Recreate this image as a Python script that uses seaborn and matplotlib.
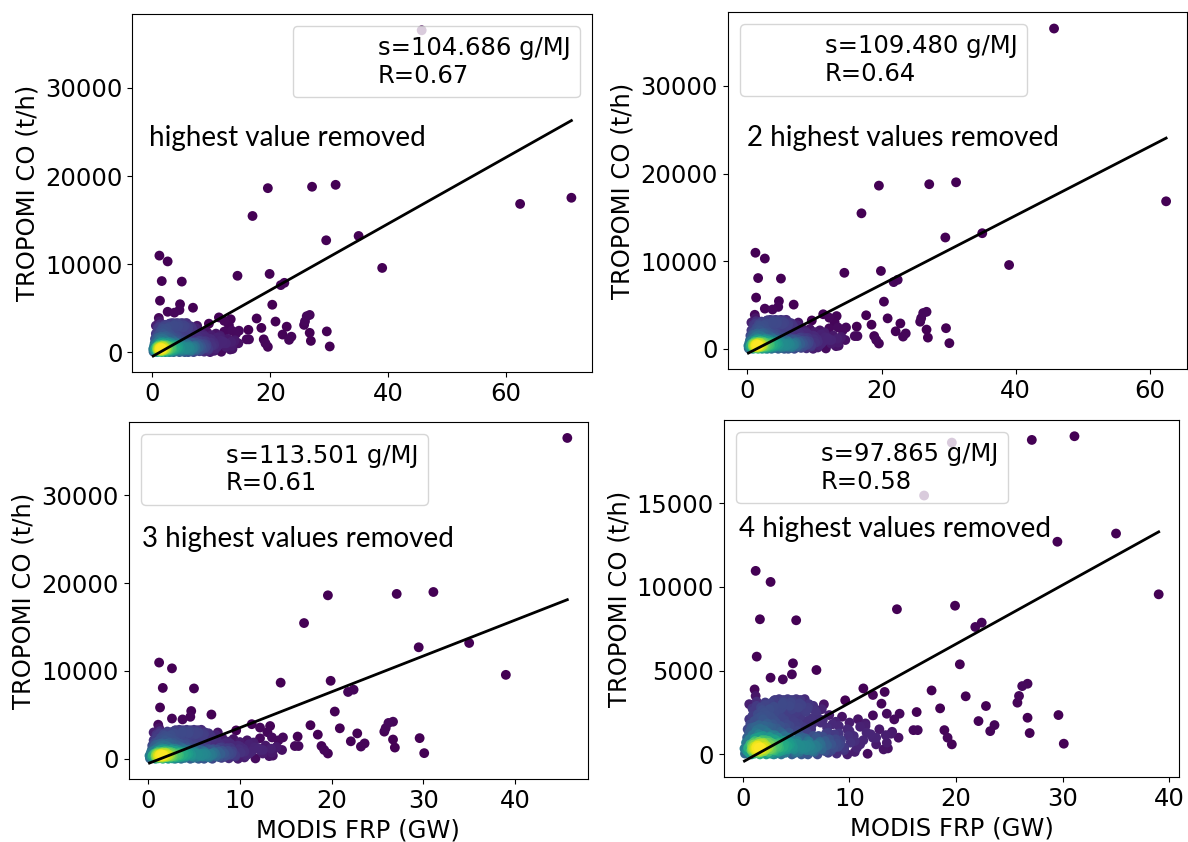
import numpy as np
import pandas as pd
import seaborn as sns
import matplotlib.pyplot as plt
from matplotlib.lines import Line2D

# isolated fires (MODIS FRP in GW, TROPOMI CO in t/h)
frp_big = [71.1, 62.4, 45.7, 39.0, 35.0, 29.5, 31.1, 27.1, 19.6, 17.0, 30.1, 29.6, 26.9,
           26.7, 26.7, 26.2, 25.9, 25.75, 23.6, 23.2, 22.8, 22.1, 22.4, 21.8, 20.9, 20.35,
           19.9, 19.6, 19.2, 18.9, 18.5, 17.7, 16.4, 16.0, 16.3, 14.45, 14.7, 14.2, 13.9,
           13.6, 13.5, 13.3, 13.0, 12.2, 12.2, 11.3, 11.7, 9.6, 7.6, 6.9, 4.7, 4.6, 3.75,
           2.6, 5.0, 1.6, 2.6, 1.2, 1.3, 1.1, 1.2]
co_big = [17530, 16830, 36550, 9560, 13190, 12700, 19000, 18780, 18620, 15460, 640, 2350, 1275,
          2190, 4220, 4080, 3490, 3090, 1750, 1390, 2890, 1990, 7870, 7610, 3470, 5380,
          8880, 600, 1000, 1450, 2750, 3820, 1450, 1450, 2530, 8670, 2430, 2090, 1235,
          360, 2430, 3730, 3030, 3550, 2330, 3940, 40, 3230, 2990, 5040, 5440, 4780, 4480,
          4580, 8010, 8070, 10300, 10960, 5840, 3880, 3490]

# the dense cloud of small fires
frp_core = [0.8, 0.9, 1.0, 1.1, 1.2, 1.3, 1.4, 1.5, 1.6, 1.7, 0.85, 0.95, 1.05, 1.15, 1.25,
            1.35, 1.45, 1.55, 1.65, 1.75, 1.0, 1.1, 1.2, 1.3, 1.4, 1.2, 1.3, 1.1, 1.25, 1.35,
            0.9, 1.5, 1.8, 1.15, 1.45, 1.05, 1.6, 1.22, 1.32, 1.28, 0.15, 0.2]
co_core = [250, 400, 150, 350, 300, 450, 200, 380, 280, 150, 550, 100, 600, 250, 420,
           320, 520, 180, 650, 400, 700, 50, 350, 280, 600, 180, 500, 480, 240, 360,
           300, 750, 300, 800, 100, 330, 420, 260, 390, 310, 350, 50]

frp_ring = [0.6, 0.7, 0.6, 2.0, 2.2, 2.4, 2.1, 1.9, 1.5, 1.2, 0.9, 0.7, 2.6, 2.8, 3.0, 2.5,
            2.3, 1.7, 1.0, 3.2, 0.5, 2.7, 1.4, 1.8, 2.0, 2.9, 3.1, 2.2, 1.6, 0.8, 1.1, 1.6,
            2.4, 2.6, 3.4, 3.6, 3.8, 1.3, 2.0, 0.6]
co_ring = [100, 600, 900, 200, 500, 150, 850, 1100, 1200, 1300, 1150, 1400, 700, 300, 550, 1000,
           1300, 1500, 1600, 200, 400, 1150, 1000, 850, 650, 900, 50, 0, 0, 0, 950, 1050,
           400, 50, 400, 700, 250, 1450, 1450, 1250]

frp_mid = [4.0, 4.2, 4.5, 4.8, 5.0, 5.3, 5.6, 5.9, 6.2, 6.5, 6.8, 7.1, 7.4, 7.7, 8.0, 8.3,
           8.6, 8.9, 4.3, 5.1, 3.9, 3.3, 3.5, 6.0, 7.0, 5.5, 4.6, 9.2, 9.5, 6.4,
           0.7, 1.1, 1.5, 1.9, 2.3, 2.7, 3.1, 3.5, 3.9, 0.9, 1.4, 2.0, 2.6, 3.3, 4.1, 4.6,
           5.0, 0.6, 1.7, 2.9]
co_mid = [100, 500, 900, 300, 650, 150, 1000, 400, 750, 200, 550, 1100, 350, 800, 100, 600,
          1200, 450, 1300, 1400, 1100, 1000, 1350, 1300, 0, 0, 0, 850, 250, 1500,
          1800, 2000, 1750, 2100, 1850, 1600, 1900, 1700, 2050, 2300, 2400, 2500, 2250, 2400, 1800, 2100,
          1700, 2100, 2250, 2050]

frp_band = [2.3, 2.7, 3.1, 3.5, 3.9, 4.3, 4.7, 5.1, 5.5, 5.9, 6.3, 6.7, 7.1, 7.5, 7.9, 8.3,
            8.7, 9.1, 9.5, 9.9, 2.5, 2.9, 3.3, 3.7, 4.1, 4.5, 4.9, 5.3, 5.7, 6.1, 6.5, 6.9,
            7.3, 7.7, 8.1, 8.5, 3.0, 3.4, 3.8, 4.4, 5.2, 6.0, 6.6, 7.2, 7.8, 8.8, 1.9, 2.1,
            3.2, 4.0]
co_band = [700, 350, 850, 200, 600, 1000, 450, 800, 300, 950, 500, 150, 650, 1050, 550, 250,
           900, 600, 400, 1100, 1050, 250, 650, 1250, 400, 700, 100, 1150, 550, 800, 350, 1000,
           600, 200, 900, 400, 1150, 150, 800, 600, 950, 250, 1100, 750, 1250, 650, 600, 300,
           450, 800]

# extra small fires along the bottom of the cloud
frp_low = [2.2, 2.6, 3.0, 3.4, 3.8, 4.2, 4.6, 5.0, 5.4, 5.8, 6.2, 6.6, 7.0, 7.4, 2.4, 2.8,
           3.2, 3.6, 4.0, 4.4, 4.8, 5.2, 5.6, 6.0, 6.4, 6.8, 1.9, 2.0, 2.5, 3.3]
co_low = [400, 550, 250, 700, 450, 300, 650, 200, 500, 350, 600, 250, 450, 300, 800, 650,
          500, 300, 750, 550, 350, 600, 400, 500, 300, 400, 700, 450, 300, 600]

frp_upper = [0.8, 1.2, 1.6, 2.0, 2.4, 2.8, 3.2, 3.6, 4.0, 4.4, 4.8, 5.2, 5.6, 6.0, 6.5, 7.0,
             1.0, 1.4, 1.8, 2.2, 2.6, 3.0, 3.4, 3.8, 4.2, 4.6, 5.0, 5.5, 6.2, 6.8,
             0.6, 1.3, 2.1, 2.9, 3.7, 4.5, 5.3, 6.1, 8.0, 9.0, 10.0, 11.0, 12.0, 10.5, 11.5,
             12.5, 13.5]
co_upper = [1600, 1650, 1550, 1700, 1650, 1800, 1550, 2200, 1600, 1700, 1950, 1850, 1650, 2000, 1800, 2200,
            2600, 2150, 2650, 2350, 3050, 2500, 2700, 3100, 2450, 2700, 2500, 2950, 3000, 2600,
            3000, 3150, 3100, 3200, 3000, 3100, 3050, 2800, 1300, 1250, 1400, 600, 1200, 800, 1700,
            1000, 700]

frp_edge = [3.0, 3.4, 3.8, 4.2, 4.6, 5.0, 5.4, 5.8, 0.9, 1.3, 1.7, 2.1, 2.5, 2.9, 3.6, 4.4,
            5.2, 6.0, 6.6, 7.4, 5.4, 5.9, 6.4, 6.9, 7.5, 8.1, 8.7, 9.3, 10.0, 10.8, 11.5,
            9.8, 10.4, 11.0, 11.6, 12.2, 12.8, 13.4, 14.0, 14.6, 10.1, 10.7, 11.3, 12.5, 13.2,
            9.0, 7.9, 7.3, 8.4, 9.8, 10.5, 8.8, 6.1, 3.6, 2.9, 0.4, 0.3, 0.4, 0.45]
co_edge = [3250, 3300, 3250, 3300, 3250, 3300, 3250, 3300, 2750, 2900, 2800, 2950, 2700, 2850, 2750, 2900,
           2800, 2650, 2900, 2700, 2300, 2550, 2150, 2450, 2050, 2350, 1950, 2250, 1900, 2100, 1850,
           1500, 1100, 1650, 1300, 1000, 1500, 1150, 1350, 1000, 700, 400, 850, 600, 300,
           1700, 1600, 1900, 1800, 0, 150, 50, 0, 0, 0, 200, 700, 1000, 1500]

slopes = [104.686, 109.480, 113.501, 97.865]      # g/MJ
r_values = [0.67, 0.64, 0.61, 0.58]
intercepts = [-500, -550, -550, -450]             # t/h
n_removed = [0, 1, 2, 3]
notes = ['highest value removed', '2 highest values removed',
         '3 highest values removed', '4 highest values removed']

frp = np.array(frp_big + frp_core + frp_ring + frp_mid + frp_band + frp_low + frp_upper + frp_edge)
co = np.array(co_big + co_core + co_ring + co_mid + co_band + co_low + co_upper + co_edge, dtype=float)


def density(x, y, bx=0.8, by=350.0):
    # plain gaussian kernel density at every point
    dx = (x[:, None] - x[None, :]) / bx
    dy = (y[:, None] - y[None, :]) / by
    return np.exp(-0.5 * (dx ** 2 + dy ** 2)).sum(axis=1)


# axes boxes in figure pixels: left, top, right, bottom
boxes = [(132.3, 14.0, 592.3, 372.3), (727.5, 12.3, 1187.0, 369.3),
         (128.6, 421.7, 588.2, 779.3), (723.75, 420.0, 1179.4, 777.3)]
legend_loc = ['upper right', 'upper left', 'upper left', 'upper left']
note_pos = [(0.037, 0.632), (0.042, 0.626), (0.030, 0.650), (0.033, 0.672)]

W, H = 1188, 842
fig = plt.figure(figsize=(W / 100, H / 100), dpi=100)
fs = 17.5

order = np.argsort(-frp)
for i in range(4):
    l, t, r, b = boxes[i]
    ax = fig.add_axes([l / W, 1 - b / H, (r - l) / W, (b - t) / H])

    keep = order[n_removed[i]:]
    df = pd.DataFrame({'frp': frp[keep], 'co': co[keep]})
    df['z'] = density(df['frp'].values, df['co'].values)
    df = df.sort_values('z')

    sns.scatterplot(data=df, x='frp', y='co', hue='z', palette='viridis',
                    hue_norm=(df['z'].min(), df['z'].max()), s=50, linewidth=0,
                    legend=False, ax=ax)

    k = slopes[i] * 3.6   # g/MJ -> t/h per GW
    xl = np.array([df['frp'].min(), df['frp'].max()])
    ax.plot(xl, intercepts[i] + k * xl, color='black', lw=2)

    h = Line2D([], [], linestyle='none')
    ax.legend([h], [f's={slopes[i]:.3f} g/MJ\nR={r_values[i]:.2f}'], loc=legend_loc[i],
              fontsize=fs, handlelength=2.3)

    ax.text(note_pos[i][0], note_pos[i][1], notes[i], transform=ax.transAxes,
            fontsize=20, family='Lato', va='baseline')

    ax.set_ylabel('TROPOMI CO (t/h)', fontsize=fs)
    if i >= 2:
        ax.set_xlabel('MODIS FRP (GW)', fontsize=fs)
    else:
        ax.set_xlabel('')
    ax.tick_params(labelsize=fs)

plt.savefig('out.png', dpi=100)
